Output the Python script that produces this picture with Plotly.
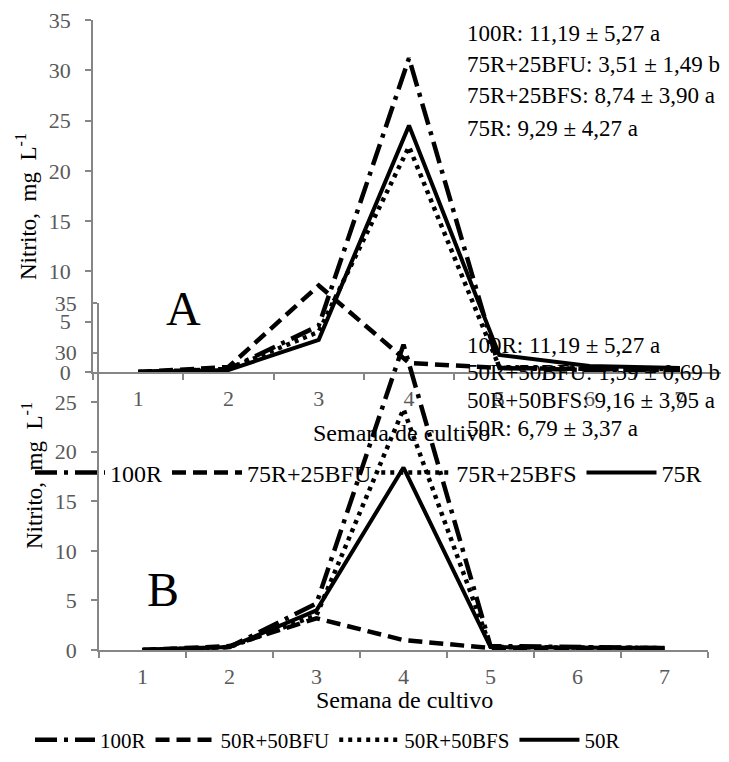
import plotly.graph_objects as go

# ---------------- data ----------------
weeks = [1, 2, 3, 4, 5, 6, 7]
week_labels = ["1", "2", "3", "4", "5", "6", "7"]
y_tick_vals = [0, 5, 10, 15, 20, 25, 30, 35]
boundaries = [0.5, 1.5, 2.5, 3.5, 4.5, 5.5, 6.5, 7.5]

# Panel A
a_names = ["100R", "75R+25BFU", "75R+25BFS", "75R"]
a_100R = [0.0, 0.3, 4.6, 31.2, 0.4, 0.2, 0.2]
a_75R25BFU = [0.0, 0.5, 8.6, 0.9, 0.4, 0.3, 0.2]
a_75R25BFS = [0.0, 0.3, 4.0, 22.4, 0.5, 0.3, 0.3]
a_75R = [0.0, 0.2, 3.2, 24.5, 1.7, 0.6, 0.4]
a_stats = ["100R: 11,19 ± 5,27 a", "75R+25BFU: 3,51 ± 1,49 b",
           "75R+25BFS: 8,74 ± 3,90 a", "75R: 9,29 ± 4,27 a"]

# Panel B
b_names = ["100R", "50R+50BFU", "50R+50BFS", "50R"]
b_100R = [0.0, 0.3, 4.7, 30.8, 0.4, 0.3, 0.2]
b_50R50BFU = [0.0, 0.4, 3.2, 1.0, 0.2, 0.2, 0.1]
b_50R50BFS = [0.0, 0.3, 3.5, 24.3, 0.3, 0.3, 0.2]
b_50R = [0.0, 0.3, 4.0, 18.4, 0.3, 0.3, 0.2]
b_stats = ["100R: 11,19 ± 5,27 a", "50R+50BFU: 1,59 ± 0,69 b",
           "50R+50BFS: 9,16 ± 3,95 a", "50R: 6,79 ± 3,37 a"]

x_title = "Semana de cultivo"
y_title = "Nitrito,  mg  L<sup>-1</sup>"

# ---------------- layout helpers ----------------
# page has an 8 px body margin; figure sized so that the page is exactly 729x762
OFF = 8
W, H = 729 - 2 * OFF, 762 - 2 * OFF
def px(x): return (x - OFF) / W
def py(y): return 1 - (y - OFF) / H

FONT = "Liberation Serif"
AX = "#868686"
TICKTXT = "#595959"

dashes = ["22px,7px,4px,7px", "14px,7px", "4px,5px", "solid"]
widths = [4.5, 4.5, 4.5, 4.0]

fig = go.Figure()
for name, vals, d, w in zip(a_names, [a_100R, a_75R25BFU, a_75R25BFS, a_75R], dashes, widths):
    fig.add_trace(go.Scatter(x=weeks, y=vals, mode="lines", name=name,
                             line=dict(color="black", width=w, dash=d),
                             xaxis="x", yaxis="y", legend="legend"))
for name, vals, d, w in zip(b_names, [b_100R, b_50R50BFU, b_50R50BFS, b_50R], dashes, widths):
    fig.add_trace(go.Scatter(x=weeks, y=vals, mode="lines", name=name,
                             line=dict(color="black", width=w, dash=d),
                             xaxis="x2", yaxis="y2", legend="legend2"))

def xgeom(left, right):
    # axis from page px left..right spans weeks 0.5..7.5; clip to figure edge
    per = (right - left) / 7.0
    right_c = min(right, OFF + W)
    hi = 0.5 + (right_c - left) / per
    return [px(left), px(right_c)], [0.5, hi]

def xmain(left, right, anchor):
    dom, rng = xgeom(left, right)
    return dict(domain=dom, anchor=anchor, range=rng, tickmode="array",
                tickvals=weeks, ticktext=week_labels, ticks="", showgrid=False,
                zeroline=False, showline=True, linecolor=AX, linewidth=1.5,
                tickfont=dict(family=FONT, size=22, color=TICKTXT), ticklabelstandoff=6,
                ticklabeloverflow="allow",
                minor=dict(tickmode="array", tickvals=boundaries, ticks="outside",
                           ticklen=6, tickwidth=1.5, tickcolor=AX, showgrid=False))

def xover(over, anchor, left, right):
    dom, rng = xgeom(left, right)
    return dict(overlaying=over, anchor=anchor, range=rng, tickmode="array",
                tickvals=boundaries, ticks="inside", ticklen=6, tickwidth=1.5,
                tickcolor=AX, showticklabels=False, showline=False, showgrid=False,
                zeroline=False)

def ymain(domain, anchor):
    return dict(domain=domain, anchor=anchor, range=[0, 35], tickmode="array",
                tickvals=y_tick_vals, ticks="outside", ticklen=6, tickwidth=1.5,
                tickcolor=AX, showgrid=False, zeroline=False, showline=True,
                linecolor=AX, linewidth=1.5, ticklabeloverflow="allow",
                tickfont=dict(family=FONT, size=22, color=TICKTXT), ticklabelstandoff=10)

def yover(over, anchor):
    return dict(overlaying=over, anchor=anchor, range=[0, 35], tickmode="array",
                tickvals=y_tick_vals, ticks="inside", ticklen=6, tickwidth=1.5,
                tickcolor=AX, showticklabels=False, showline=False, showgrid=False,
                zeroline=False)

fig.update_layout(
    width=W, height=H,
    margin=dict(l=0, r=0, t=0, b=0, autoexpand=False),
    paper_bgcolor="white", plot_bgcolor="rgba(0,0,0,0)",
    font=dict(family=FONT, size=22, color="black"),
    xaxis=xmain(93, 725, "y"),
    yaxis=ymain([py(372), py(20)], "x"),
    xaxis2=xmain(99, 708, "y2"),
    yaxis2=ymain([py(650), py(303)], "x2"),
    xaxis3=xover("x", "y", 93, 725),
    yaxis3=yover("y", "x"),
    xaxis4=xover("x2", "y2", 99, 708),
    yaxis4=yover("y2", "x2"),
    legend=dict(orientation="h", x=px(30), y=py(473), xanchor="left", yanchor="middle",
                bgcolor="rgba(0,0,0,0)", font=dict(family=FONT, size=24, color="black"),
                itemwidth=70),
    legend2=dict(orientation="h", x=px(30), y=py(740), xanchor="left", yanchor="middle",
                 bgcolor="rgba(0,0,0,0)", font=dict(family=FONT, size=21, color="black"),
                 itemwidth=60),
)

ann = []
for i, t in enumerate(a_stats):
    ann.append(dict(text=t, x=px(465), y=py([33, 64, 96, 128][i]), xref="paper", yref="paper",
                    xanchor="left", yanchor="middle", showarrow=False,
                    font=dict(family=FONT, size=23, color="black")))
for i, t in enumerate(b_stats):
    ann.append(dict(text=t, x=px(465), y=py([345, 372, 400, 428][i]), xref="paper", yref="paper",
                    xanchor="left", yanchor="middle", showarrow=False,
                    font=dict(family=FONT, size=23, color="black")))
ann.append(dict(text="A", x=px(183), y=py(309), xref="paper", yref="paper", showarrow=False,
                xanchor="center", yanchor="middle", font=dict(family=FONT, size=48, color="black")))
ann.append(dict(text="B", x=px(163), y=py(589), xref="paper", yref="paper", showarrow=False,
                xanchor="center", yanchor="middle", font=dict(family=FONT, size=48, color="black")))
ann.append(dict(text=x_title, x=px(401), y=py(433), xref="paper", yref="paper", showarrow=False,
                xanchor="center", yanchor="middle", font=dict(family=FONT, size=24, color="black")))
ann.append(dict(text=x_title, x=px(404), y=py(700), xref="paper", yref="paper", showarrow=False,
                xanchor="center", yanchor="middle", font=dict(family=FONT, size=24, color="black")))
ann.append(dict(text=y_title, x=px(26), y=py(207), xref="paper", yref="paper", showarrow=False,
                textangle=-90, xanchor="center", yanchor="middle",
                font=dict(family=FONT, size=23, color="black")))
ann.append(dict(text=y_title, x=px(32), y=py(476), xref="paper", yref="paper", showarrow=False,
                textangle=-90, xanchor="center", yanchor="middle",
                font=dict(family=FONT, size=23, color="black")))
fig.update_layout(annotations=ann)

fig.write_html("out.html")
